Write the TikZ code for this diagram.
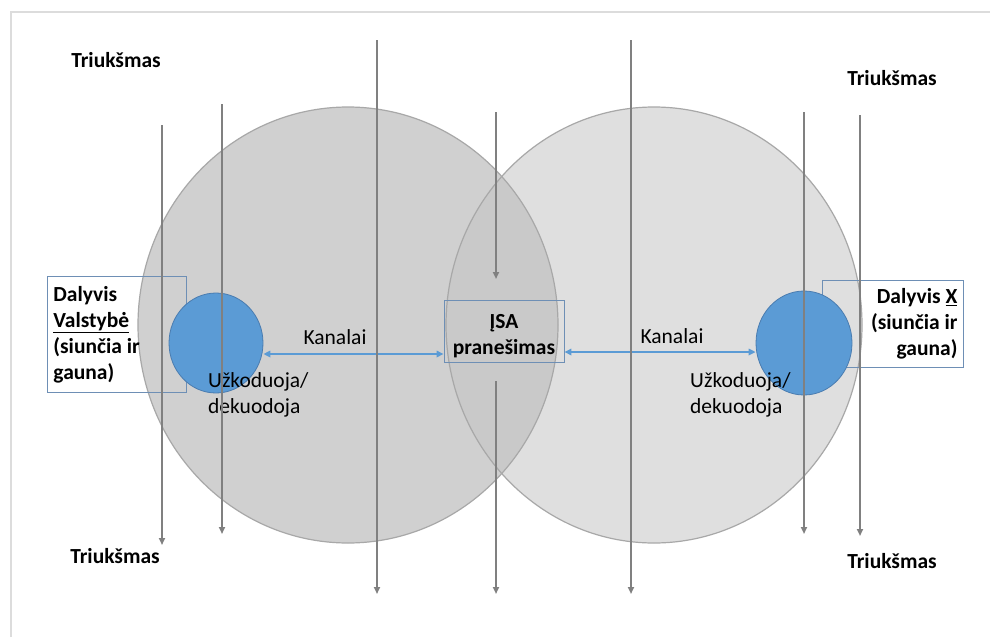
\documentclass[tikz,border=0pt]{standalone}
\usepackage{fontspec}
\setmainfont{Carlito}
\usetikzlibrary{arrows.meta,shapes.geometric}
\definecolor{frameline}{HTML}{DCDCDC}
\definecolor{ringA}{HTML}{D0D0D0}
\definecolor{ringB}{HTML}{DFDFDF}
\definecolor{ringAB}{HTML}{C9C9C9}
\definecolor{ringedge}{HTML}{A8A8A8}
\definecolor{noise}{HTML}{808080}
\definecolor{partfill}{HTML}{5B9BD5}
\definecolor{partedge}{HTML}{4A7CB0}
\definecolor{boxedge}{HTML}{6E8FB5}
\tikzset{
  base/.style={font=\fontsize{21.5}{26.5}\selectfont},
  boldtext/.style={font=\fontsize{21.5}{26}\selectfont\bfseries},
  noisearrow/.style={draw=noise, line width=1.8pt, -{Triangle[length=7pt,width=6pt]}},
  chan/.style={draw=partfill, line width=1.6pt, {Triangle[length=7pt,width=6.5pt]}-{Triangle[length=7pt,width=6.5pt]}},
  party/.style={ellipse, fill=partfill, draw=partedge, line width=0.8pt},
  infobox/.style={boldtext, draw=boxedge, line width=0.9pt, inner sep=6pt},
}
\begin{document}
\begin{tikzpicture}[x=1pt, y=-1pt]
\useasboundingbox (0,0) rectangle (990,637);
\fill[white] (0,0) rectangle (990,637);
% page frame
\draw[frameline, line width=2pt] (11,637) -- (11,12) -- (990,12);

% two overlapping fields of experience
\fill[ringB] (654,325) ellipse [x radius=208, y radius=218];
\fill[ringA] (348,325) ellipse [x radius=210, y radius=218];
\begin{scope}
  \clip (654,325) ellipse [x radius=208, y radius=218];
  \fill[ringAB] (348,325) ellipse [x radius=210, y radius=218];
\end{scope}
\draw[ringedge, line width=1.2pt] (654,325) ellipse [x radius=208, y radius=218];
\draw[ringedge, line width=1.2pt] (348,325) ellipse [x radius=210, y radius=218];

% participant boxes
\node[infobox, anchor=north west, text width=127pt, minimum height=116pt, align=flush left] (lbox) at (47,276)
  {Dalyvis\\\underline{Valstybė}\\(siunčia ir\\gauna)};
\node[infobox, anchor=north west, text width=129pt, minimum height=87pt, align=flush right] (rbox) at (822,280)
  {Dalyvis \underline{X}\\(siunčia ir\\gauna)};
% message box
\node[draw=boxedge, line width=0.9pt, minimum width=120pt, minimum height=62pt, inner sep=0pt] (msg) at (504,331) {};
\node[boldtext, align=center, inner sep=0pt] (msgtext) at ([yshift=-5pt]msg.center) {ĮSA\\pranešimas};

% participants
\node[party, minimum width=94pt, minimum height=100pt] (lpart) at (216,343) {};
\node[party, minimum width=96pt, minimum height=104pt] (rpart) at (804,343) {};

% channels
\draw[chan] ([yshift=-11pt]lpart.east) -- ([yshift=-23pt]msg.west);
\draw[chan] ([yshift=-21pt]msg.east) -- ([yshift=-9pt]rpart.west);
\node[base] (lchan) at (335,337) {Kanalai};
\node[base] (rchan) at (672,336) {Kanalai};
\node[base, anchor=west, align=left, inner sep=0pt] (lcode) at (208,395) {Užkoduoja/\\dekuodoja};
\node[base, anchor=west, align=left, inner sep=0pt] (rcode) at (690,395) {Užkoduoja/\\dekuodoja};

% noise
\draw[noisearrow] (162,125) -- (162,545);
\draw[noisearrow] (222,104) -- (222,534);
\draw[noisearrow] (377,40) -- (377,594);
\draw[noisearrow] (496,112) -- (496,279);
\draw[noisearrow] (496,381) -- (496,594);
\draw[noisearrow] (631,40) -- (631,594);
\draw[noisearrow] (804,112) -- (804,534);
\draw[noisearrow] (860,115) -- (860,536);

\node[boldtext] (n1) at (116,60) {Triukšmas};
\node[boldtext] (n2) at (892,78) {Triukšmas};
\node[boldtext] (n3) at (115,556) {Triukšmas};
\node[boldtext] (n4) at (892,561) {Triukšmas};
\end{tikzpicture}
\end{document}
